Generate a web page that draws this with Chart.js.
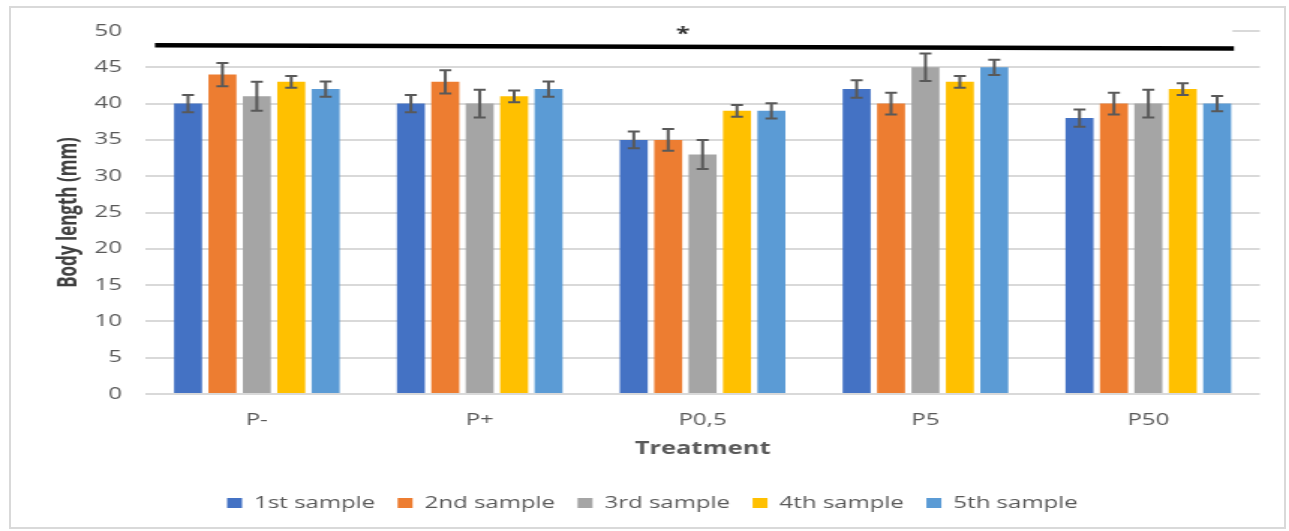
<!DOCTYPE html>
<html>
<head>
<meta charset="utf-8">
<script src="https://cdn.jsdelivr.net/npm/chart.js@4"></script>
<style>
	body { margin: 0; background: #fff; }
	#wrap { position: relative; width: 1289px; height: 531px; }
	#frame { position: absolute; left: 9px; top: 6px; width: 1277px; height: 523px; border: 2px solid #d9d9d9; box-sizing: border-box; }
	#c { position: absolute; left: 0; top: 0; width: 1289px; height: 531px; }
</style>
</head>
<body>
<div id="wrap">
	<div id="frame"></div>
	<canvas id="c" width="860" height="531" style="width:1289px;height:531px"></canvas>
</div>
<script>
// chart values
var treatments = ["P-", "P+", "P0,5", "P5", "P50"];
var seriesNames = ["1st sample", "2nd sample", "3rd sample", "4th sample", "5th sample"];
var sample1 = [40, 40, 35, 42, 38];
var sample2 = [44, 43, 35, 40, 40];
var sample3 = [41, 40, 33, 45, 40];
var sample4 = [43, 41, 39, 43, 42];
var sample5 = [42, 42, 39, 45, 40];
var err1 = [1.2, 1.2, 1.15, 1.2, 1.2];
var err2 = [1.6, 1.6, 1.5, 1.5, 1.5];
var err3 = [2.0, 1.9, 2.0, 1.9, 1.9];
var err4 = [0.8, 0.8, 0.8, 0.8, 0.8];
var err5 = [1.05, 1.05, 1.05, 1.05, 1.05];
var yTicks = [0, 5, 10, 15, 20, 25, 30, 35, 40, 45, 50];
// significance bar (category index from/to, value left/right) and its mark
var sigFrom = -0.457, sigTo = 4.384, sigLeft = 48.05, sigRight = 47.6;
var sigMark = "*", sigMarkAt = 1.912;

var colors = ["#4472C4", "#ED7D31", "#A5A5A5", "#FFC000", "#5B9BD5"];
var values = [sample1, sample2, sample3, sample4, sample5];
var errors = [err1, err2, err3, err4, err5];

var datasets = [];
for (var i = 0; i < values.length; i++) {
	datasets.push({
		label: seriesNames[i],
		data: values[i],
		errors: errors[i],
		backgroundColor: colors[i],
		borderWidth: 0,
		barPercentage: 0.814,
		categoryPercentage: 0.772
	});
}

var errorBars = {
	id: "errorBars",
	afterDatasetsDraw: function(chart) {
		var ctx = chart.ctx;
		var y = chart.scales.y;
		ctx.save();
		ctx.strokeStyle = "#595959";
		ctx.lineWidth = 2;
		chart.data.datasets.forEach(function(ds, i) {
			var meta = chart.getDatasetMeta(i);
			meta.data.forEach(function(bar, j) {
				var hi = y.getPixelForValue(ds.data[j] + ds.errors[j]);
				var lo = y.getPixelForValue(ds.data[j] - ds.errors[j]);
				ctx.beginPath();
				ctx.moveTo(bar.x, hi); ctx.lineTo(bar.x, lo);
				ctx.moveTo(bar.x - 4, hi); ctx.lineTo(bar.x + 4, hi);
				ctx.moveTo(bar.x - 4, lo); ctx.lineTo(bar.x + 4, lo);
				ctx.stroke();
			});
		});
		ctx.restore();
	}
};

var significance = {
	id: "significance",
	beforeDatasetsDraw: function(chart) {
		var ctx = chart.ctx;
		var x = chart.scales.x, y = chart.scales.y;
		ctx.save();
		// the top gridline is hidden behind the annotation in the original
		ctx.fillStyle = "#fff";
		ctx.fillRect(chart.chartArea.left - 1, y.getPixelForValue(50) - 2, x.getPixelForValue(sigTo) - chart.chartArea.left, 4);
		ctx.restore();
	},
	afterDatasetsDraw: function(chart) {
		var ctx = chart.ctx;
		var x = chart.scales.x, y = chart.scales.y;
		ctx.save();
		ctx.strokeStyle = "#000";
		ctx.lineWidth = 4.5;
		ctx.beginPath();
		ctx.moveTo(x.getPixelForValue(sigFrom), y.getPixelForValue(sigLeft));
		ctx.lineTo(x.getPixelForValue(sigTo), y.getPixelForValue(sigRight));
		ctx.stroke();
		ctx.fillStyle = "#333";
		ctx.font = "bold 17px 'Open Sans'";
		ctx.textAlign = "center";
		ctx.textBaseline = "alphabetic";
		ctx.fillText(sigMark, x.getPixelForValue(sigMarkAt), y.getPixelForValue(50) + 9);
		ctx.restore();
	}
};

var legendShift = {
	id: "legendShift",
	afterUpdate: function(chart) {
		chart.legend.left += 15;
		chart.legend.right += 15;
	}
};

var chart = new Chart(document.getElementById("c"), {
	type: "bar",
	data: { labels: treatments, datasets: datasets },
	plugins: [errorBars, significance, legendShift],
	options: {
		responsive: false,
		animation: false,
		devicePixelRatio: 1,
		layout: { padding: { top: 31, right: 19.5, bottom: 10, left: 0 } },
		plugins: {
			tooltip: { enabled: false },
			legend: {
				position: "bottom",
				labels: {
					boxWidth: 10,
					boxHeight: 10,
					padding: 15,
					color: "#595959",
					font: { family: "'Open Sans'", size: 16 }
				}
			}
		},
		scales: {
			x: {
				grid: { display: false },
				border: { display: false },
				ticks: { color: "#595959", padding: 9, font: { family: "'Open Sans'", size: 16 } },
				title: {
					display: true,
					text: "Treatment",
					color: "#595959",
					padding: { top: 0, bottom: 20.5 },
					font: { family: "'Open Sans'", size: 17, weight: "bold" }
				},
				afterFit: function(scale) { scale.height = 86; }
			},
			y: {
				min: 0,
				max: 50,
				afterBuildTicks: function(scale) {
					scale.ticks = yTicks.map(function(v) { return { value: v }; });
				},
				grid: { color: "#d9d9d9", lineWidth: 2, drawTicks: false },
				border: { display: false },
				ticks: { color: "#595959", padding: 15.6, font: { family: "'Open Sans'", size: 16 } },
				title: {
					display: true,
					text: "Body length (mm)",
					color: "#404040",
					padding: { top: 36, bottom: 0 },
					font: { family: "'Open Sans'", size: 17, weight: "bold" }
				},
				afterFit: function(scale) { scale.width = 97; }
			}
		}
	}
});
</script>
</body>
</html>
